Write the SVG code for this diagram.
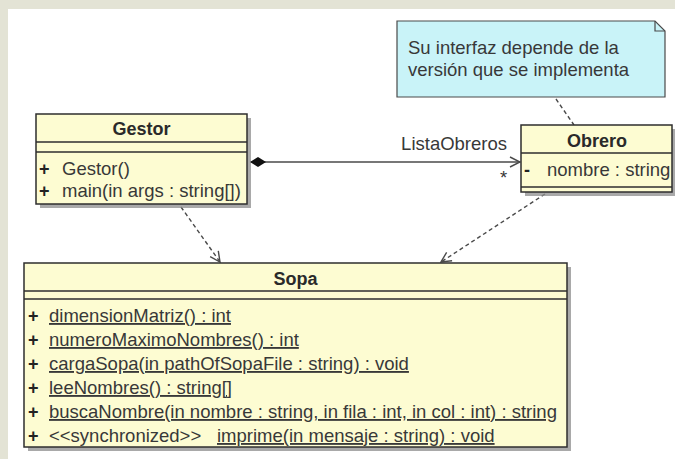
<svg xmlns="http://www.w3.org/2000/svg" width="675" height="459" viewBox="0 0 675 459">
  <style>
    .cls { fill: #fdfcd2; stroke: #2e2e2e; stroke-width: 1.5; }
    .shadow { fill: #8c8c8c; opacity: 0.75; }
    .sep { stroke: #2e2e2e; stroke-width: 1.3; }
    .title { font-family: "Liberation Sans", Arial, sans-serif; font-size: 18px; font-weight: bold; fill: #2a2a2a; text-anchor: middle; }
    .txt { font-family: "Liberation Sans", Arial, sans-serif; font-size: 18.5px; fill: #383838; }
    .vis { font-family: "Liberation Sans", Arial, sans-serif; font-size: 18px; font-weight: bold; fill: #222222; }
    .ul { text-decoration: underline; }
    .note { fill: #c9f3f8; stroke: #4a4a4a; stroke-width: 1.2; }
    .edge { fill: none; stroke: #4a4a4a; stroke-width: 1.4; }
    .dash { fill: none; stroke: #4a4a4a; stroke-width: 1.4; stroke-dasharray: 4 3; }
  </style>
  <defs>
    <marker id="open" viewBox="0 0 12 12" refX="11" refY="6" markerWidth="12" markerHeight="12" markerUnits="userSpaceOnUse" orient="auto">
      <path d="M1,1 L11,6 L1,11" fill="none" stroke="#4a4a4a" stroke-width="1.4"/>
    </marker>
    <marker id="diamond" viewBox="0 0 18 12" refX="1" refY="6" markerWidth="18" markerHeight="12" markerUnits="userSpaceOnUse" orient="auto">
      <path d="M1,6 L9,1 L17,6 L9,11 Z" fill="#111111"/>
    </marker>
  </defs>

  <!-- page backdrop and canvas -->
  <rect x="0" y="0" width="675" height="459" fill="#e3e3d5"/>
  <rect x="8" y="9" width="667" height="450" fill="#ffffff"/>

  <!-- connectors -->
  <g id="connectors">
    <line class="edge" x1="250" y1="162" x2="520" y2="162" marker-start="url(#diamond)" marker-end="url(#open)"/>
    <text class="txt" x="507" y="150" text-anchor="end">ListaObreros</text>
    <text class="txt" x="500" y="184" font-size="12">*</text>
    <line class="dash" x1="181" y1="207" x2="220" y2="262" marker-end="url(#open)"/>
    <line class="dash" x1="545" y1="194" x2="441" y2="262" marker-end="url(#open)"/>
    <line class="dash" x1="556" y1="99" x2="574" y2="125"/>
  </g>

  <!-- comment note -->
  <g id="note">
    <path class="note" d="M397,21 L655,21 L665,31 L665,97 L397,97 Z"/>
    <path d="M655,21 L655,31 L665,31" fill="none" stroke="#4a4a4a" stroke-width="1.2"/>
    <text class="txt" x="408" y="54">Su interfaz depende de la</text>
    <text class="txt" x="408" y="76">versión que se implementa</text>
  </g>

  <!-- class Gestor -->
  <g id="gestor">
    <rect class="shadow" x="40" y="118" width="211" height="90"/>
    <rect class="cls" x="36" y="114" width="211" height="90"/>
    <line class="sep" x1="36" y1="142" x2="247" y2="142"/>
    <line class="sep" x1="36" y1="152" x2="247" y2="152"/>
    <text class="title" x="141.5" y="135">Gestor</text>
    <text class="vis" x="39" y="175">+</text>
    <text class="txt" x="62" y="175">Gestor()</text>
    <text class="vis" x="39" y="197">+</text>
    <text class="txt" x="62" y="197">main(in args : string[])</text>
  </g>

  <!-- class Obrero -->
  <g id="obrero">
    <rect class="shadow" x="525" y="129" width="150" height="67"/>
    <rect class="cls" x="521" y="125" width="151" height="67"/>
    <line class="sep" x1="521" y1="153" x2="672" y2="153"/>
    <line class="sep" x1="521" y1="187" x2="672" y2="187"/>
    <text class="title" x="597" y="147">Obrero</text>
    <text class="vis" x="524" y="176">-</text>
    <text class="txt" x="547" y="176">nombre : string</text>
  </g>

  <!-- class Sopa -->
  <g id="sopa">
    <rect class="shadow" x="28" y="267" width="543" height="184"/>
    <rect class="cls" x="24" y="263" width="543" height="184"/>
    <line class="sep" x1="24" y1="291" x2="567" y2="291"/>
    <line class="sep" x1="24" y1="299" x2="567" y2="299"/>
    <text class="title" x="295.5" y="285">Sopa</text>
    <text class="vis" x="28" y="322">+</text>
    <text class="txt ul" x="49" y="322">dimensionMatriz() : int</text>
    <text class="vis" x="28" y="346">+</text>
    <text class="txt ul" x="49" y="346">numeroMaximoNombres() : int</text>
    <text class="vis" x="28" y="370">+</text>
    <text class="txt ul" x="49" y="370">cargaSopa(in pathOfSopaFile : string) : void</text>
    <text class="vis" x="28" y="394">+</text>
    <text class="txt ul" x="49" y="394">leeNombres() : string[]</text>
    <text class="vis" x="28" y="418">+</text>
    <text class="txt ul" x="49" y="418">buscaNombre(in nombre : string, in fila : int, in col : int) : string</text>
    <text class="vis" x="28" y="442">+</text>
    <text class="txt" x="49" y="442">&lt;&lt;synchronized&gt;&gt;</text>
    <text class="txt ul" x="217" y="442">imprime(in mensaje : string) : void</text>
  </g>
</svg>
